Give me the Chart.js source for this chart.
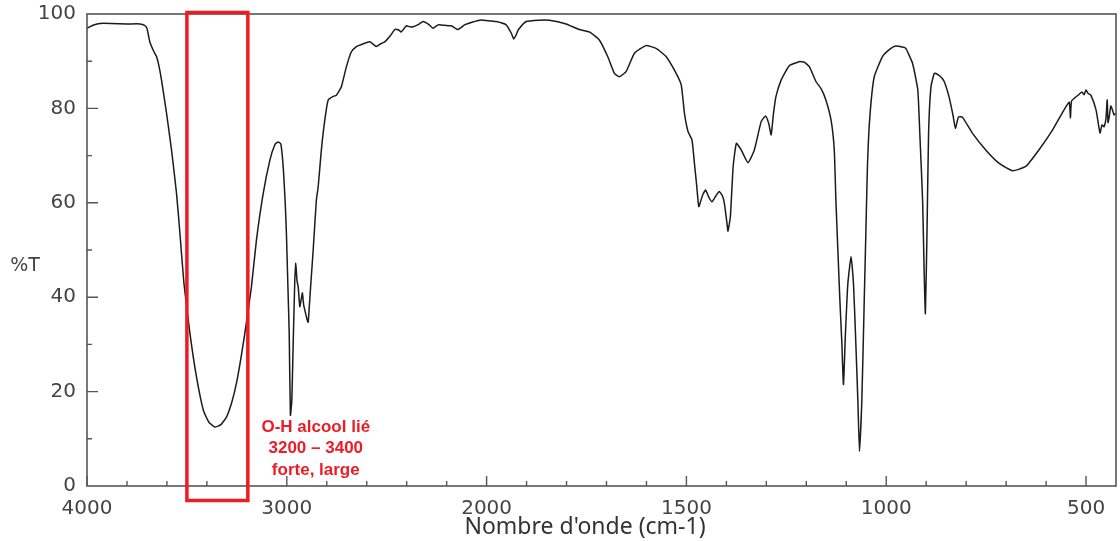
<!DOCTYPE html>
<html lang="fr">
<head>
  <meta charset="UTF-8" />
  <title>Spectre IR</title>
  <script src="https://cdn.jsdelivr.net/npm/chart.js"></script>
  <style>
    body {
      margin: 0;
      background: #fff;
    }
    canvas {
      display: block;
    }
  </style>
</head>
<body>

<canvas id="irChart" width="1120" height="541"></canvas>

<script>
  // wavenumber (cm-1), high to low
  const wavenumbers = [
    4000, 3970, 3935, 3880, 3800, 3735, 3712, 3700, 3685, 3665, 3652, 3640, 3627, 3602, 3577, 3552,
    3535, 3515, 3485, 3452, 3418, 3390, 3360, 3330, 3302, 3275, 3252, 3230, 3210, 3177, 3152, 3118,
    3085, 3060, 3045, 3030, 3018, 3008, 3002, 2995, 2988, 2982, 2975, 2968, 2960, 2955, 2949, 2943,
    2935, 2928, 2922, 2916, 2910, 2900, 2893, 2882, 2868, 2852, 2843, 2827, 2810, 2793, 2770, 2752,
    2727, 2702, 2677, 2655, 2635, 2585, 2565, 2552, 2530, 2510, 2480, 2460, 2440, 2427, 2402, 2385,
    2368, 2340, 2318, 2290, 2268, 2243, 2210, 2177, 2143, 2110, 2070, 2035, 2000, 1976, 1951, 1938,
    1932, 1926, 1921, 1901, 1868, 1843, 1801, 1768, 1743, 1718, 1697, 1680, 1668, 1651, 1630, 1601,
    1576, 1551, 1530, 1513, 1505, 1496, 1486, 1480, 1474, 1469, 1460, 1452, 1444, 1436, 1426, 1418,
    1410, 1405, 1399, 1396, 1390, 1383, 1375, 1363, 1346, 1330, 1313, 1302, 1294, 1288, 1282, 1276,
    1263, 1243, 1218, 1205, 1192, 1176, 1163, 1151, 1138, 1130, 1126, 1121, 1116, 1111, 1107, 1102,
    1096, 1088, 1082, 1077, 1071, 1067, 1061, 1055, 1051, 1047, 1041, 1030, 1009, 990, 976, 960,
    951, 934, 921, 916, 909, 905, 902, 898, 894, 888, 880, 876, 865, 855, 843, 833,
    827, 819, 809, 784, 751, 718, 684, 651, 618, 584, 555, 542, 539, 536, 517, 510,
    505, 500, 495, 488, 475, 465, 460, 455, 450, 447, 445, 442, 438, 434, 430, 425
  ];

  // %T at each wavenumber
  const transmittance = [
    97.0, 97.6, 98.0, 98.0, 97.9, 97.9, 97.6, 97.0, 94.0, 92.0, 91.0, 89.0, 86.0, 79.0, 71.2, 62.0,
    53.6, 43.0, 32.4, 23.1, 16.1, 13.5, 12.5, 13.0, 14.6, 17.8, 21.8, 27.0, 32.4, 42.2, 52.1, 62.0,
    69.0, 72.3, 72.9, 72.5, 67.6, 60.0, 53.6, 43.0, 32.4, 15.0, 18.0, 30.3, 43.6, 47.2, 43.5, 42.2,
    38.0, 39.5, 40.9, 38.5, 37.3, 35.5, 34.7, 41.5, 50.0, 60.6, 63.4, 71.2, 77.5, 81.8, 82.5, 82.8,
    84.6, 88.8, 92.0, 93.0, 93.4, 94.1, 93.5, 93.1, 93.7, 94.1, 95.5, 96.7, 96.6, 96.2, 97.5, 97.3,
    97.3, 97.8, 98.4, 97.8, 97.0, 97.7, 97.6, 97.5, 96.7, 97.7, 98.3, 98.7, 98.6, 98.4, 97.7, 95.9,
    94.7, 95.6, 96.6, 98.4, 98.7, 98.7, 97.9, 96.7, 96.2, 94.5, 91.0, 87.4, 86.7, 87.8, 91.7, 93.3,
    92.7, 91.0, 88.1, 85.0, 79.0, 75.1, 73.3, 68.4, 63.4, 59.2, 61.5, 62.7, 61.2, 60.2, 61.5, 62.4,
    61.5, 59.9, 56.0, 54.0, 57.1, 67.7, 72.6, 71.2, 68.5, 71.2, 77.2, 78.4, 76.8, 74.4, 79.0, 82.5,
    86.0, 89.0, 89.9, 89.8, 88.8, 85.7, 84.2, 81.8, 77.5, 71.2, 60.6, 50.0, 39.4, 30.2, 21.5, 32.4,
    42.9, 48.6, 43.0, 32.4, 18.2, 7.3, 18.2, 39.4, 53.5, 67.7, 78.2, 86.7, 91.0, 92.6, 93.2, 93.0,
    92.7, 89.5, 83.9, 74.8, 60.6, 45.1, 36.5, 53.6, 74.8, 84.6, 87.4, 87.4, 86.8, 85.7, 82.5, 78.6,
    75.8, 78.2, 78.1, 74.7, 71.2, 68.4, 66.8, 67.7, 71.2, 75.4, 79.7, 81.3, 78.0, 81.6, 83.0, 83.5,
    82.9, 83.9, 83.2, 82.8, 79.7, 74.8, 76.5, 76.1, 78.0, 81.8, 77.0, 78.2, 80.5, 79.7, 78.6, 79.0
  ];

  const xTickLabels = [4000, 3000, 2000, 1500, 1000, 500];
  const yTickLabels = [0, 20, 40, 60, 80, 100];
  const bandRange = [3500, 3195];
  const bandNote = ["O-H alcool lié", "3200 – 3400", "forte, large"];

  // the spectrometer compresses 4000-2000 to half scale
  const toU = w => w > 2000 ? 2000 + (w - 2000) / 2 : w;
  const fromU = u => u > 2000 ? Math.round(2000 + (u - 2000) * 2) : Math.round(u);

  const tickFont = { family: "'DejaVu Sans', sans-serif", size: 20 };
  const axisGray = "#555";

  const frameAndNotes = {
    id: "frameAndNotes",
    afterDatasetsDraw(chart) {
      const { ctx, chartArea: a, scales: { x, y } } = chart;
      ctx.save();

      // frame
      ctx.strokeStyle = axisGray;
      ctx.lineWidth = 1.6;
      ctx.strokeRect(a.left, a.top, a.right - a.left, a.bottom - a.top);

      // inward tick marks
      ctx.lineWidth = 1.4;
      ctx.beginPath();
      for (let u = 500; u <= 3000; u += 100) {
        const px = x.getPixelForValue(u);
        const len = u % 500 === 0 ? 10 : 5;
        ctx.moveTo(px, a.bottom);
        ctx.lineTo(px, a.bottom - len);
      }
      for (let v = 10; v < 100; v += 10) {
        const py = y.getPixelForValue(v);
        const len = v % 20 === 0 ? 11 : 5;
        ctx.moveTo(a.left, py);
        ctx.lineTo(a.left + len, py);
      }
      ctx.stroke();

      // band box
      const bx1 = x.getPixelForValue(toU(bandRange[0]));
      const bx2 = x.getPixelForValue(toU(bandRange[1]));
      ctx.strokeStyle = "#ef1b24";
      ctx.lineWidth = 3.5;
      ctx.strokeRect(bx1, a.top - 1.5, bx2 - bx1, a.bottom - a.top + 16);

      // band note
      ctx.fillStyle = "#ef1b24";
      ctx.font = "bold 17px 'Liberation Sans', Arial, sans-serif";
      ctx.textAlign = "center";
      ctx.textBaseline = "middle";
      const nx = x.getPixelForValue(toU(2855));
      [12.5, 7.9, 3.4].forEach((v, i) => {
        ctx.fillText(bandNote[i], nx, y.getPixelForValue(v));
      });

      // axis titles
      ctx.fillStyle = "#444";
      ctx.font = "19px 'DejaVu Sans', sans-serif";
      ctx.fillText("%T", 25, y.getPixelForValue(46.6));

      ctx.fillStyle = "#333";
      ctx.font = "23px 'Noto Sans', 'Open Sans', sans-serif";
      ctx.fillText("Nombre d'onde (cm-1)", 585, 527);

      ctx.restore();
    }
  };

  new Chart(document.getElementById("irChart").getContext("2d"), {
    type: "line",
    data: {
      datasets: [{
        data: wavenumbers.map((w, i) => ({ x: toU(w), y: transmittance[i] })),
        borderColor: "#1b1b1b",
        borderWidth: 1.5,
        pointRadius: 0,
        tension: 0.15,
        fill: false
      }]
    },
    options: {
      responsive: false,
      animation: false,
      layout: { padding: { top: 14, right: 4, left: 0, bottom: 0 } },
      plugins: {
        legend: { display: false },
        tooltip: { enabled: false }
      },
      scales: {
        x: {
          type: "linear",
          reverse: true,
          min: 425,
          max: 3000,
          grid: { display: false, drawTicks: false },
          border: { display: false },
          afterBuildTicks: s => { s.ticks = xTickLabels.map(w => ({ value: toU(w) })); },
          afterFit: s => { s.height = 55; s.paddingLeft = 0; s.paddingRight = 0; },
          ticks: {
            autoSkip: false,
            maxRotation: 0,
            padding: 11,
            color: "#444",
            font: tickFont,
            callback: v => String(fromU(v))
          }
        },
        y: {
          min: 0,
          max: 100,
          grid: { display: false, drawTicks: false },
          border: { display: false },
          afterBuildTicks: s => { s.ticks = yTickLabels.map(v => ({ value: v })); },
          afterFit: s => { s.width = 87; s.paddingTop = 0; s.paddingBottom = 0; },
          ticks: {
            padding: 11,
            color: "#444",
            font: tickFont
          }
        }
      }
    },
    plugins: [frameAndNotes]
  });
</script>

</body>
</html>
